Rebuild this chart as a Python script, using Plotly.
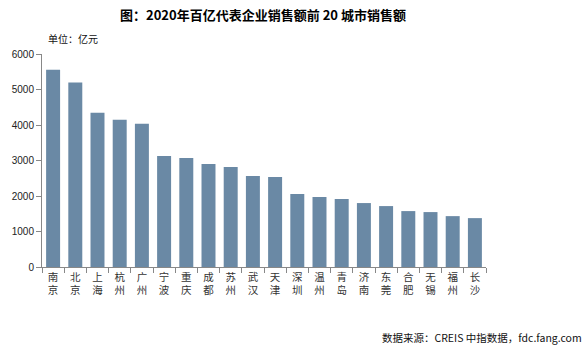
import plotly.graph_objects as go

cities = ["南京", "北京", "上海", "杭州", "广州", "宁波", "重庆", "成都", "苏州", "武汉",
          "天津", "深圳", "温州", "青岛", "济南", "东莞", "合肥", "无锡", "福州", "长沙"]
sales = [5557, 5194, 4346, 4148, 4034, 3130, 3073, 2904, 2819, 2564,
         2536, 2055, 1971, 1914, 1801, 1716, 1575, 1547, 1433, 1377]
y_ticks = [0, 1000, 2000, 3000, 4000, 5000, 6000]

labels = ["<br>".join(list(c)) for c in cities]

fig = go.Figure()
fig.add_trace(go.Bar(x=labels, y=sales, marker=dict(color="#6a89a5", line=dict(width=0)),
                     width=0.63))

font_cjk = "Noto Sans CJK SC"
fig.update_layout(
    width=587, height=350,
    margin=dict(l=40, r=101, t=54, b=83),
    plot_bgcolor="white", paper_bgcolor="white",
    showlegend=False,
    title=dict(text="<b>图：2020年百亿代表企业销售额前 20 城市销售额</b>",
               x=0.448, xanchor="center", y=0.957, yanchor="middle",
               font=dict(family=font_cjk, size=13, color="#000")),
    xaxis=dict(showline=True, linecolor="#888", linewidth=1, ticks="outside",
               tickson="boundaries", ticklen=5, tickcolor="#888",
               tickfont=dict(family=font_cjk, size=10.5, color="#333"),
               tickangle=0, showgrid=False),
    yaxis=dict(range=[0, 6000], tickvals=y_ticks, showline=True, linecolor="#888",
               linewidth=1, ticks="outside", ticklen=5, tickcolor="#888",
               showgrid=False, zeroline=False,
               tickfont=dict(family="Liberation Sans", size=10, color="#222")),
    annotations=[
        dict(text="单位：亿元", xref="paper", yref="paper", x=0.01, y=1.03,
             xanchor="left", yanchor="bottom", showarrow=False,
             font=dict(family=font_cjk, size=10, color="#111")),
        dict(text="数据来源：CREIS 中指数据，fdc.fang.com", xref="paper", yref="paper",
             x=1.22, y=-0.33, xanchor="right", yanchor="middle", showarrow=False,
             font=dict(family=font_cjk, size=10.5, color="#111")),
    ],
)

fig.write_html("out.html")
